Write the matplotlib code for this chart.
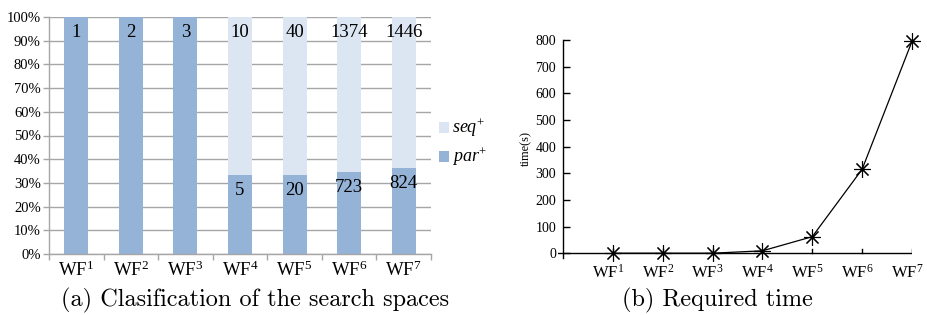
import matplotlib
matplotlib.use("Agg")
import matplotlib.pyplot as plt
import matplotlib.transforms as mtransforms
import numpy as np

categories = ["WF$^{\\mathrm{1}}$", "WF$^{\\mathrm{2}}$", "WF$^{\\mathrm{3}}$", "WF$^{\\mathrm{4}}$",
              "WF$^{\\mathrm{5}}$", "WF$^{\\mathrm{6}}$", "WF$^{\\mathrm{7}}$"]
par_counts = [1, 2, 3, 5, 20, 723, 824]
seq_counts = [0, 0, 0, 10, 40, 1374, 1446]
time_s = [0, 0, 0, 9, 62, 315, 795]
pct_ticks = [0, 10, 20, 30, 40, 50, 60, 70, 80, 90, 100]
time_ticks = [0, 100, 200, 300, 400, 500, 600, 700, 800]

plt.rcParams['font.family'] = ['Liberation Serif', 'DejaVu Serif']
plt.rcParams['mathtext.fontset'] = 'custom'
plt.rcParams['mathtext.rm'] = 'Liberation Serif'
plt.rcParams['mathtext.it'] = 'Liberation Serif:italic'
plt.rcParams['mathtext.bf'] = 'Liberation Serif:bold'

fig = plt.figure(figsize=(9.27, 3.15), dpi=100)

PAR = '#95B3D7'
SEQ = '#DCE6F2'
GRID = '#A6A6A6'

# ---------- left chart ----------
ax1 = fig.add_axes([49/927, 1-254/315, 382/927, 237/315])
n = len(categories)
x = np.arange(n)
tot = np.array(par_counts, float) + np.array(seq_counts, float)
par_pct = np.array(par_counts) / tot * 100
seq_pct = np.array(seq_counts) / tot * 100
w = 0.44
ax1.bar(x, par_pct, width=w, color=PAR, zorder=2, label='$par^{+}$', linewidth=0)
ax1.bar(x, seq_pct, width=w, bottom=par_pct, color=SEQ, zorder=2, label='$seq^{+}$', linewidth=0)
ax1.set_xlim(-0.5, n-0.5)
ax1.set_ylim(0, 100)
ax1.set_yticks(pct_ticks)
ax1.set_yticklabels([f"{t}%" for t in pct_ticks], fontsize=10.5)
ax1.yaxis.grid(True, color=GRID, linewidth=1.0, zorder=0)
ax1.set_axisbelow(True)
ax1.set_xticks(x)
ax1.set_xticklabels(categories, fontsize=13.5)
ax1.set_xticks(np.arange(-0.5, n, 1.0), minor=True)
ax1.tick_params(axis='x', which='major', length=0, pad=5)
ax1.tick_params(axis='x', which='minor', length=4, color=GRID, width=1.0, direction='out')
ax1.tick_params(axis='y', length=4, color=GRID, width=1.0, direction='out', pad=2)
for s in ['top', 'right']:
    ax1.spines[s].set_visible(False)
for s in ['left', 'bottom']:
    ax1.spines[s].set_color(GRID)
    ax1.spines[s].set_linewidth(1.0)

for i in range(n):
    if par_counts[i] > 0:
        ax1.annotate(str(par_counts[i]), (x[i], par_pct[i]), xytext=(0, -11),
                     textcoords='offset points', ha='center', va='center',
                     fontsize=13.5, zorder=5)
    if seq_counts[i] > 0:
        ax1.annotate(str(seq_counts[i]), (x[i], 100), xytext=(0, -11),
                     textcoords='offset points', ha='center', va='center',
                     fontsize=13.5, zorder=5)

h, l = ax1.get_legend_handles_labels()
ax1.legend(h[::-1], l[::-1], loc='center left', bbox_to_anchor=(1.02, 0.47),
           frameon=False, fontsize=13, handlelength=0.55, handleheight=0.55,
           handletextpad=0.2, labelspacing=0.35, borderaxespad=0, borderpad=0)

fig.text(255/927, 1-300/315, "(a) Clasification of the search spaces",
         family='cmr10', fontsize=17.5, ha='center', va='center')

# ---------- right chart ----------
ax2 = fig.add_axes([558/927, 1-258/315, 354/927, 218/315])
xp = np.arange(1, n+1)
ax2.plot(xp, time_s, color='black', linewidth=0.9, marker=(8, 2, 0),
         markersize=12, markeredgewidth=0.8, zorder=3, clip_on=False)
ax2.set_xlim(-0.1, n)
ax2.set_ylim(-18, 800)
ax2.spines['left'].set_position(('data', 0))
ax2.spines['left'].set_linewidth(1.0)
for s in ['top', 'right', 'bottom']:
    ax2.spines[s].set_visible(False)
ax2.axhline(0, color='black', linewidth=1.0, zorder=2)
ax2.set_yticks(time_ticks)
ax2.set_yticklabels([str(t) for t in time_ticks], fontsize=10)
ax2.tick_params(axis='y', direction='in', length=5, width=1.0, pad=5)
ax2.set_xticks(xp)
ax2.set_xticklabels(categories, fontsize=12)
ax2.tick_params(axis='x', direction='in', length=4, width=1.0, pad=3, bottom=False)
for xi in xp:
    ax2.plot([xi, xi], [0, 15], color='black', linewidth=1.0, zorder=2)
offset = mtransforms.ScaledTranslation(-5/100, -2/100, fig.dpi_scale_trans)
for lab in ax2.get_xticklabels():
    lab.set_transform(lab.get_transform() + offset)
ax2.set_ylabel("time(s)", fontsize=9, labelpad=2)

fig.text(717/927, 1-300/315, "(b) Required time",
         family='cmr10', fontsize=17.5, ha='center', va='center')

fig.savefig("out.png", dpi=100)
